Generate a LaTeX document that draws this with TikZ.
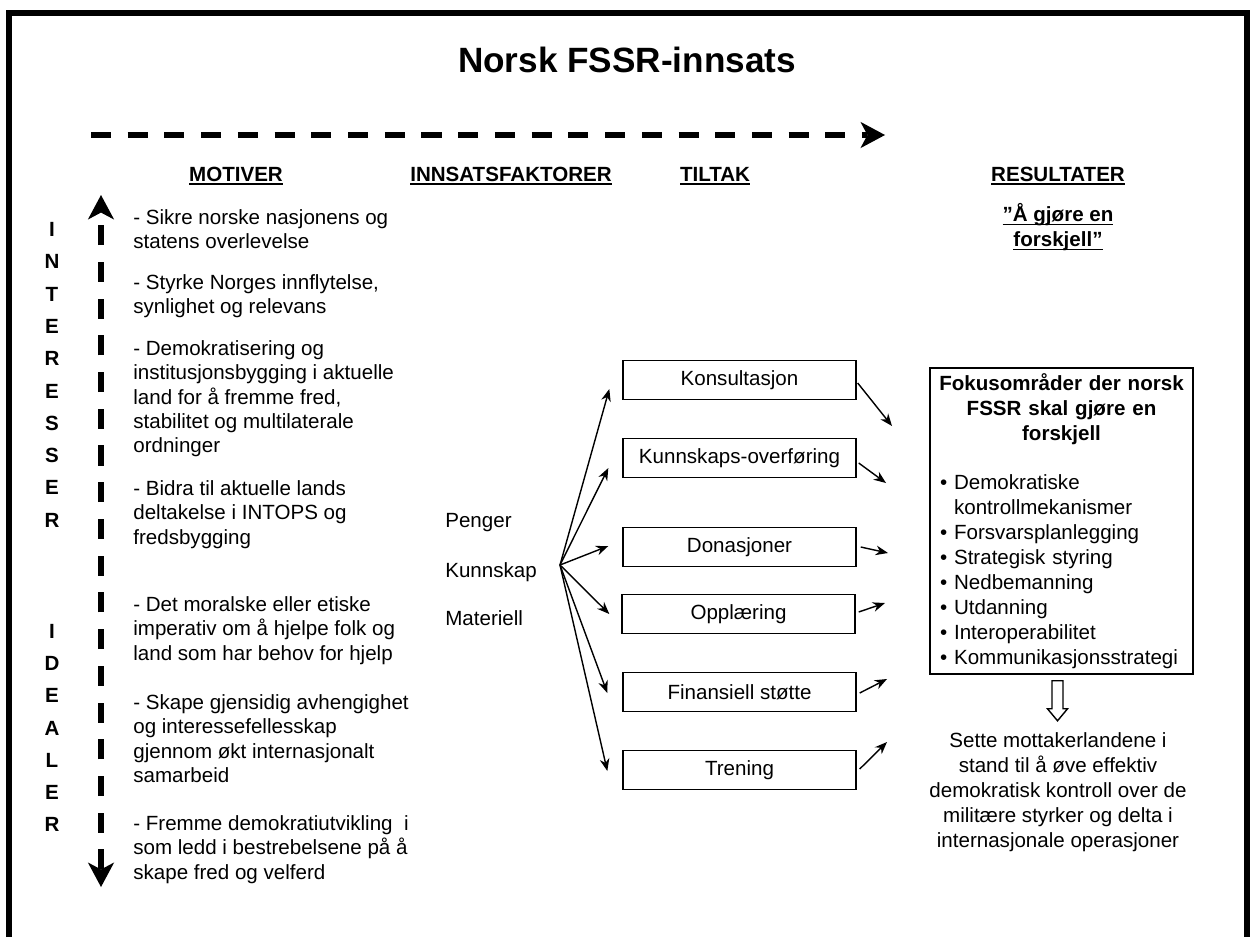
\documentclass[tikz,border=0pt]{standalone}
\usepackage{fontspec}
\setmainfont{Liberation Sans}
\usetikzlibrary{positioning,arrows.meta,calc}

\newcommand{\undl}[1]{\leavevmode\setbox0\hbox{#1}\rlap{\rule[-2.2pt]{\wd0}{0.8pt}}\box0}
\newcommand{\midline}[1]{\makebox[\linewidth][c]{#1}}

\begin{document}
\begin{tikzpicture}[
  x=0.02cm, y=-0.02cm,
  font=\fontsize{11.7}{13.9}\selectfont,
  >=Stealth,
  heading/.style={anchor=base, inner sep=0pt, font=\fontsize{11.7}{14}\selectfont\bfseries},
  letter/.style={anchor=base, inner sep=0pt, font=\fontsize{11.7}{14}\selectfont\bfseries},
  motiv/.style={anchor=north west, align=left, inner sep=0pt},
  ressurs/.style={anchor=base west, inner sep=0pt},
  tiltakbox/.style={draw=black, line width=0.8pt, minimum width=132.6pt, minimum height=22.2pt, inner sep=0pt},
  resbox/.style={draw=black, line width=0.8pt, text width=138.3pt, inner xsep=5.7pt, inner ysep=3pt,
    align=left, font=\fontsize{11.7}{14.2}\selectfont},
  fanmap/.style={->, line width=0.8pt, >={Stealth[length=7pt,width=5.5pt]}},
  bigdash/.style={line width=3.4pt, dash pattern=on 11.4pt off 9.5pt,
    >={Stealth[length=14pt,width=15pt,inset=4pt,line width=0pt]}},
  hollowarrow/.style={draw=black, line width=0.8pt, fill=white}
]
  \useasboundingbox (0,0) rectangle (1253,937);
  \draw[line width=3.4pt] (9,937) -- (9,13) -- (1247,13) -- (1247,937);

  \node[anchor=base, inner sep=0pt, font=\fontsize{20}{24}\selectfont\bfseries] (title) at (627,72) {Norsk FSSR-innsats};

  % time arrow and interests/ideals axis
  \coordinate (hstart) at (91,135);
  \coordinate (hend) at (885,135);
  \draw[bigdash,->] (hstart) -- (hend);
  \coordinate (vtop) at (101,195);
  \coordinate (vbot) at (101,887);
  \draw[bigdash,<->] (vbot) -- (vtop);

  \foreach \l [count=\i] in {I,N,T,E,R,E,S,S,E,R}
    \node[letter] (int\i) at (52,{236.5+32.3*(\i-1)}) {\l};
  \foreach \l [count=\i] in {I,D,E,A,L,E,R}
    \node[letter] (ide\i) at (52,{638.5+32.2*(\i-1)}) {\l};

  \node[heading] (hmot) at (236,181) {\undl{MOTIVER}};
  \node[heading] (hinn) at (511,181) {\undl{INNSATSFAKTORER}};
  \node[heading] (htil) at (715,181) {\undl{TILTAK}};
  \node[heading] (hres) at (1058,181) {\undl{RESULTATER}};
  \node[heading, anchor=north, align=center] (hgjore) at (1058,203) {\undl{”Å gjøre en}\\\undl{forskjell”}};

  % motiver
  \node[motiv] (m1) at (133,209) {- Sikre norske nasjonens og\\statens overlevelse};
  \node[motiv] (m2) at (133,274) {- Styrke Norges innflytelse,\\synlighet og relevans};
  \node[motiv] (m3) at (133,340) {- Demokratisering og\\institusjonsbygging i aktuelle\\land for å fremme fred,\\stabilitet og multilaterale\\ordninger};
  \node[motiv] (m4) at (133,480) {- Bidra til aktuelle lands\\deltakelse i INTOPS og\\fredsbygging};
  \node[motiv] (m5) at (133,596) {- Det moralske eller etiske\\imperativ om å hjelpe folk og\\land som har behov for hjelp};
  \node[motiv] (m6) at (133,694) {- Skape gjensidig avhengighet\\og interessefellesskap\\gjennom økt internasjonalt\\samarbeid};
  \node[motiv] (m7) at (133,815) {- Fremme demokratiutvikling~ i\\som ledd i bestrebelsene på å\\skape fred og velferd};

  % innsatsfaktorer
  \node[ressurs] (pen) at (445,527) {Penger};
  \node[ressurs] (kun) at (445,577) {Kunnskap};
  \node[ressurs] (mat) at (445,625) {Materiell};
  \coordinate (fan) at (560,565);

  % tiltak
  \node[tiltakbox] (kons) at (739.5,380) {Konsultasjon};
  \node[tiltakbox] (overf) at (739.5,458) {Kunnskaps-overføring};
  \node[tiltakbox] (don) at (739.5,547) {Donasjoner};
  \node[tiltakbox] (oppl) at (738.5,614) {Opplæring};
  \node[tiltakbox] (fin) at (739.5,692) {Finansiell støtte};
  \node[tiltakbox] (tren) at (739.5,770) {Trening};

  \foreach \b/\dx/\dy in {kons/-13/9, overf/-14/10, don/-14/-1, oppl/-12/0, fin/-15/1, tren/-15/1}
    \draw[fanmap] (fan) -- ($(\b.west)+(\dx,\dy)$);

  % resultater
  \node[resbox] (res) at (1061.5,521) {\bfseries\midline{Fokusområder der norsk}\\
    \midline{FSSR skal gjøre en}\\\midline{forskjell}\\[14.2pt]\mdseries
    • Demokratiske\\
    \phantom{• }kontrollmekanismer\\
    • Forsvarsplanlegging\\
    • Strategisk styring\\
    • Nedbemanning\\
    • Utdanning\\
    • Interoperabilitet\\
    • Kommunikasjonsstrategi};

  \coordinate (r1) at (892,426);
  \coordinate (r2) at (886,483);
  \coordinate (r3) at (888,553);
  \coordinate (r4) at (885,603);
  \coordinate (r5) at (887,679);
  \coordinate (r6) at (887,742);
  \foreach \b/\dx/\dy/\r in {kons/1/3/r1, overf/2/5/r2, don/4/0/r3, oppl/3/-2/r4, fin/3/1/r5, tren/3/-1/r6}
    \draw[fanmap] ($(\b.east)+(\dx,\dy)$) -- (\r);

  \coordinate (ha) at ($(res.south)+(-4,0)$);
  \draw[hollowarrow, shift={(ha)}] (-5.5,6) -- (5.5,6) -- (5.5,34) -- (10,34) -- (0,46)
    -- (-10,34) -- (-5.5,34) -- cycle;

  \node[anchor=north, align=center, inner sep=0pt, font=\fontsize{11.7}{14.2}\selectfont] (effekt) at (1058,732)
    {Sette mottakerlandene i\\stand til å øve effektiv\\demokratisk kontroll over de\\militære styrker og delta i\\internasjonale operasjoner};
\end{tikzpicture}
\end{document}
